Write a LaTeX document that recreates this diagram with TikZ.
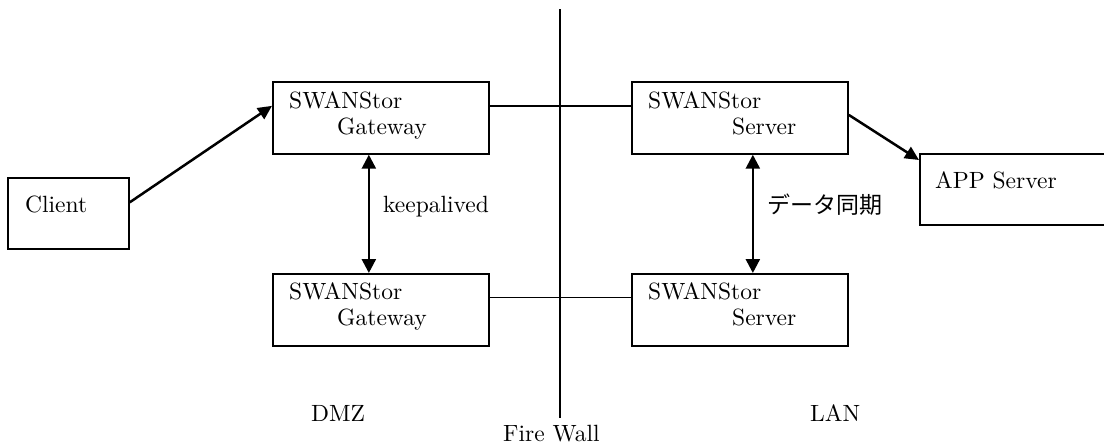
\documentclass[tikz,border=0pt]{standalone}
\usepackage{fontspec}
\newfontfamily\lmten{lmroman10-regular}[Extension=.otf]
\newfontfamily\cjk{Noto Sans CJK JP}
\usetikzlibrary{arrows.meta}
\begin{document}
\begin{tikzpicture}[x=1pt,y=-1pt,
  box/.style={draw,line width=1.7pt,minimum width=216pt,minimum height=72pt,anchor=north west,inner sep=0pt},
  txt/.style={anchor=base west,inner sep=0pt,font=\lmten\fontsize{23.5}{28}\selectfont},
  thin/.style={line width=1.4pt},
  arr/.style={line width=2.5pt,-{Triangle[length=14pt,width=13pt]}},
  darr/.style={line width=2.5pt,{Triangle[length=14pt,width=14pt]}-{Triangle[length=14pt,width=14pt]}}]
\useasboundingbox (0,0) rectangle (1104,445);
% boxes
\node[box,minimum width=121pt,minimum height=71pt] (client) at (7,177) {};
\node[box] (gw1) at (272,81) {};
\node[box] (sv1) at (631,81) {};
\node[box] (gw2) at (272,273) {};
\node[box] (sv2) at (631,273) {};
\node[box,minimum width=196pt,minimum height=71pt] (app) at (919,153) {};
% texts
\node[txt] (tclient) at (25,212) {Client};
\node[txt] (tgw1a) at (289,108) {SWANStor};
\node[txt] (tgw1b) at (337,134) {Gateway};
\node[txt] (tsv1a) at (648,108) {SWANStor};
\node[txt] (tsv1b) at (732,134) {Server};
\node[txt] (tgw2a) at (289,299) {SWANStor};
\node[txt] (tgw2b) at (337,325) {Gateway};
\node[txt] (tsv2a) at (648,299) {SWANStor};
\node[txt] (tsv2b) at (732,325) {Server};
\node[txt] (tapp) at (935,188) {APP Server};
\node[txt] (tkeep) at (383,212) {keepalived};
\node[txt,font=\cjk\fontsize{23}{28}\selectfont] (tsync) at (767,213) {データ同期};
\node[txt] (tdmz) at (311,421) {DMZ};
\node[txt] (tlan) at (810,421) {LAN};
\node[txt] (tfw) at (503,441) {Fire Wall};
% firewall
\coordinate (fwtop) at (560,9);
\coordinate (fwbot) at (560,418);
\draw[thin] (fwtop) -- (fwbot);
% connectors
\draw[thin] ([yshift=12pt]gw1.east) -- ([yshift=12pt]sv1.west);
\draw[thin] ([yshift=12.5pt]gw2.east) -- ([yshift=12.5pt]sv2.west);
\draw[arr] ([yshift=11pt]client.east) -- ([yshift=12pt]gw1.west);
\draw[arr] ([yshift=3pt]sv1.east) -- ([yshift=-7pt]app.north west);
\draw[darr] ([xshift=-12pt]gw1.south) -- ([xshift=-12pt]gw2.north);
\draw[darr] ([xshift=13pt]sv1.south) -- ([xshift=13pt]sv2.north);
\end{tikzpicture}
\end{document}
